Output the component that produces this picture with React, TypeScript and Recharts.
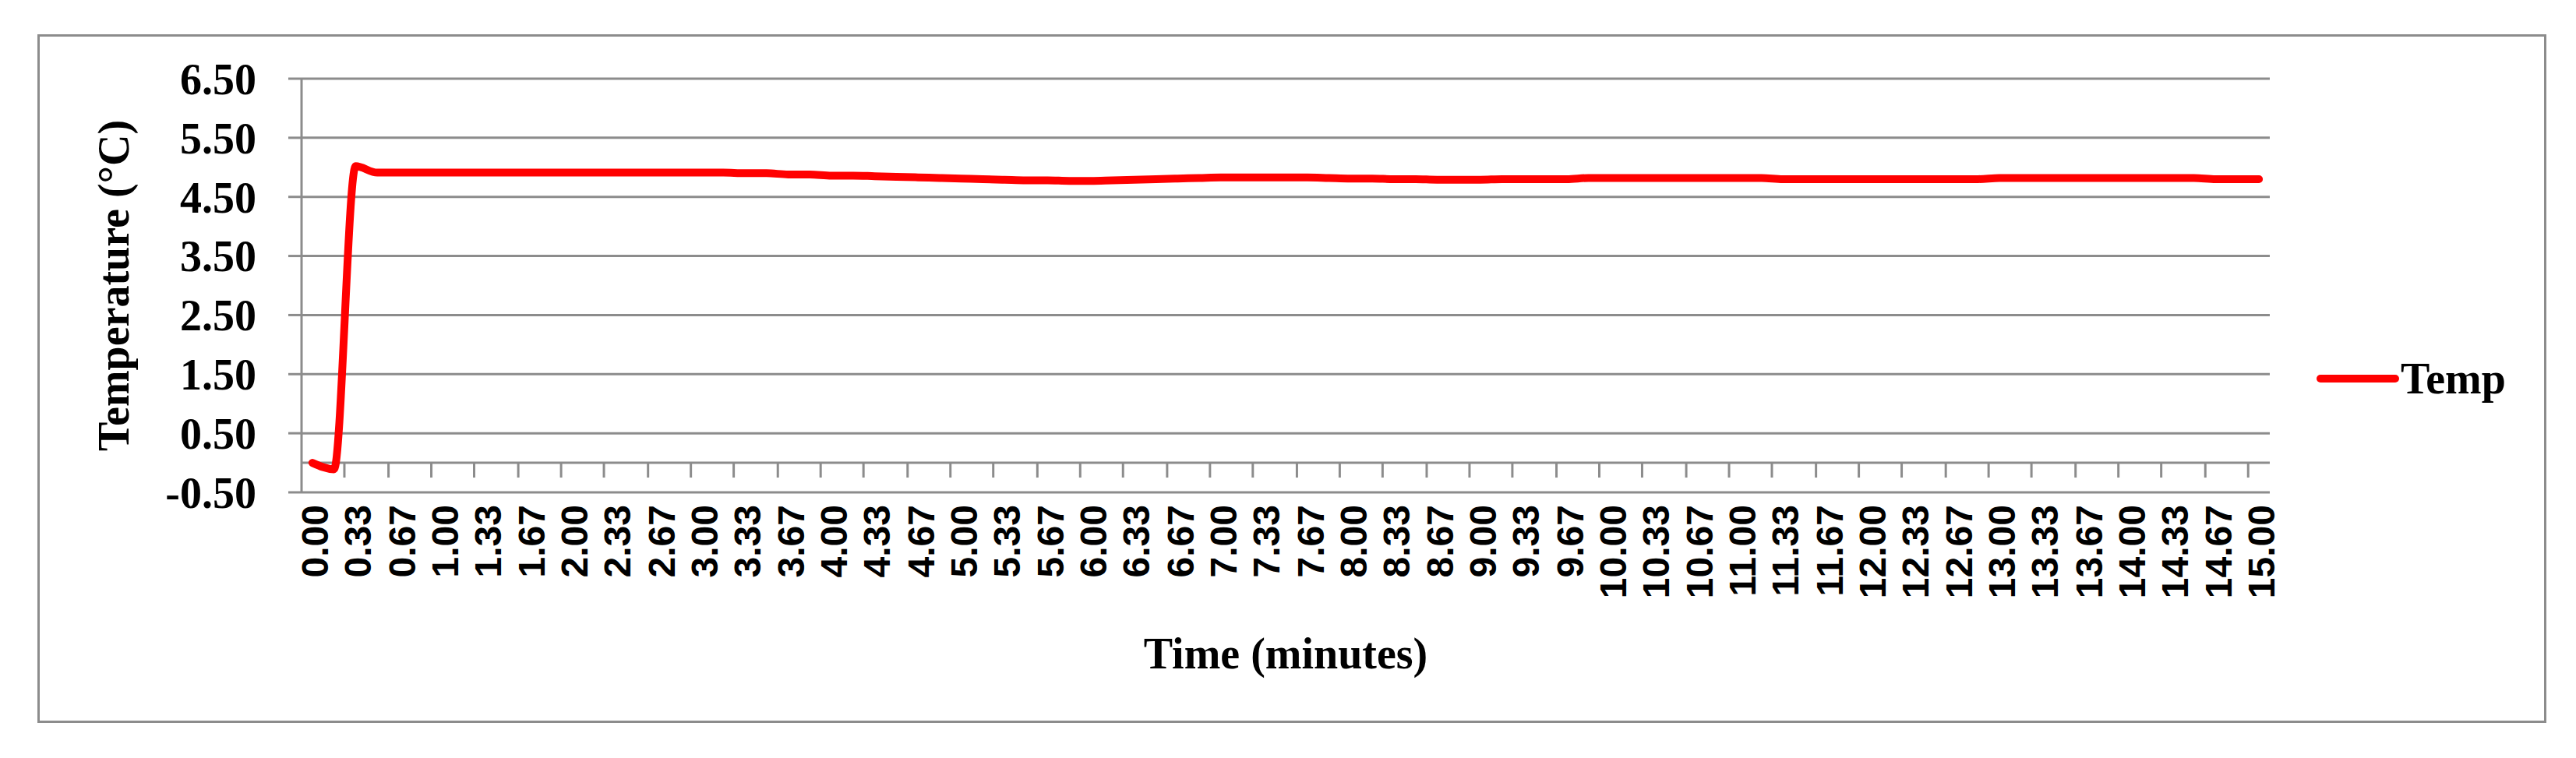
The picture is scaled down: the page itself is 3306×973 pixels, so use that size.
import React from 'react';
import { LineChart, Line, XAxis, YAxis, CartesianGrid, Legend, ReferenceLine, Label } from 'recharts';

// one reading every 10 seconds, 0 to 15 minutes
const SAMPLE_STEP_MIN = 10 / 60;

const TEMPS = [
  0.0, -0.11, 5.02, 4.91, 4.91, 4.91, 4.91, 4.91, 4.91, 4.91,
  4.91, 4.91, 4.91, 4.91, 4.91, 4.91, 4.91, 4.91, 4.91, 4.91,
  4.9, 4.9, 4.88, 4.88, 4.86, 4.86, 4.85, 4.84, 4.83, 4.82,
  4.81, 4.8, 4.79, 4.78, 4.78, 4.77, 4.77, 4.78, 4.79, 4.8,
  4.81, 4.82, 4.83, 4.83, 4.83, 4.83, 4.83, 4.82, 4.81, 4.81,
  4.8, 4.8, 4.79, 4.79, 4.79, 4.8, 4.8, 4.8, 4.8, 4.82,
  4.82, 4.82, 4.82, 4.82, 4.82, 4.82, 4.82, 4.82, 4.8, 4.8,
  4.8, 4.8, 4.8, 4.8, 4.8, 4.8, 4.8, 4.8, 4.82, 4.82,
  4.82, 4.82, 4.82, 4.82, 4.82, 4.82, 4.82, 4.82, 4.8, 4.8,
  4.8,
];

const X_TICKS = [
  0, 0.33, 0.67, 1, 1.33, 1.67, 2, 2.33, 2.67, 3, 3.33, 3.67, 4, 4.33, 4.67,
  5, 5.33, 5.67, 6, 6.33, 6.67, 7, 7.33, 7.67, 8, 8.33, 8.67, 9, 9.33, 9.67,
  10, 10.33, 10.67, 11, 11.33, 11.67, 12, 12.33, 12.67, 13, 13.33, 13.67, 14, 14.33, 14.67, 15,
];

const Y_TICKS = [-0.5, 0.5, 1.5, 2.5, 3.5, 4.5, 5.5, 6.5];

const data = TEMPS.map((temp, i) => ({ t: i * SAMPLE_STEP_MIN, temp }));

const GRID = '#8c8c8c';
const RED = '#FF0000';
const SERIF = "'Liberation Serif', 'Times New Roman', serif";
const SANS = "'Liberation Sans', Arial, sans-serif";
const HALF_STEP = SAMPLE_STEP_MIN / 2;

const TimeTick = (props: any) => {
  const { x, y, payload } = props;
  return (
    <text
      transform={`translate(${x + 3},${y}) rotate(-90)`}
      textAnchor="end"
      dy="0.36em"
      fill="#000"
      fontFamily={SANS}
      fontWeight={700}
      fontSize={48}
    >
      {Number(payload.value).toFixed(2)}
    </text>
  );
};

const XTitle = (props: any) => {
  const vb = props.viewBox;
  return (
    <text x={vb.x + vb.width / 2} y={vb.y + 226} textAnchor="middle" fill="#000"
      fontFamily={SERIF} fontWeight={700} fontSize={56}>
      Time (minutes)
    </text>
  );
};

const YTitle = (props: any) => {
  const vb = props.viewBox;
  const cx = 165;
  const cy = vb.y + vb.height / 2;
  return (
    <text x={cx} y={cy} transform={`rotate(-90, ${cx}, ${cy})`} textAnchor="middle" fill="#000"
      fontFamily={SERIF} fontWeight={700} fontSize={56}>
      Temperature (°C)
    </text>
  );
};

const LegendBox = () => (
  <div style={{ display: 'flex', alignItems: 'center', height: 60 }}>
    <svg width={106} height={20}>
      <line x1={5} y1={10} x2={101} y2={10} stroke={RED} strokeWidth={10} strokeLinecap="round" />
    </svg>
    <span style={{ fontFamily: SERIF, fontWeight: 700, fontSize: 56, lineHeight: 1, marginLeft: 2, color: '#000' }}>
      Temp
    </span>
  </div>
);

export default function App() {
  return (
    <div style={{ position: 'absolute', left: 0, top: 0, width: 3306, height: 973, background: '#fff' }}>
      <div
        style={{
          position: 'absolute', left: 48, top: 44, width: 3220, height: 884,
          border: `3px solid ${GRID}`, boxSizing: 'border-box',
        }}
      />
      <div style={{ position: 'absolute', left: 0, top: 0 }}>
        <LineChart width={3306} height={973} data={data} margin={{ top: 101, right: 393, bottom: 0, left: 0 }}>
          <CartesianGrid vertical={false} stroke={GRID} strokeWidth={3} />
          <XAxis
            type="number"
            dataKey="t"
            domain={[-HALF_STEP, 15 + HALF_STEP]}
            ticks={X_TICKS}
            interval={0}
            height={341}
            axisLine={false}
            tickLine={false}
            tickSize={0}
            tickMargin={16}
            tick={<TimeTick />}
          >
            <Label content={<XTitle />} />
          </XAxis>
          <YAxis
            domain={[-0.5, 6.5]}
            ticks={Y_TICKS}
            interval={0}
            width={387}
            tickFormatter={(v: number) => v.toFixed(2)}
            axisLine={{ stroke: GRID, strokeWidth: 3 }}
            tickLine={{ stroke: GRID, strokeWidth: 3 }}
            tickSize={17}
            tickMargin={41}
            tick={{ fill: '#000', fontFamily: SERIF, fontWeight: 700, fontSize: 56 }}
          >
            <Label content={<YTitle />} />
          </YAxis>
          <ReferenceLine y={0} stroke={GRID} strokeWidth={3} />
          {X_TICKS.slice(1).map((v) => (
            <ReferenceLine
              key={v}
              segment={[{ x: v - HALF_STEP, y: 0 }, { x: v - HALF_STEP, y: -0.25 }]}
              stroke={GRID}
              strokeWidth={3}
            />
          ))}
          <Legend
            layout="horizontal"
            verticalAlign="middle"
            align="center"
            wrapperStyle={{ left: 2973, top: 456, width: 300, height: 60 }}
            content={<LegendBox />}
          />
          <Line
            type="monotone"
            dataKey="temp"
            name="Temp"
            stroke={RED}
            strokeWidth={10}
            strokeLinecap="round"
            strokeLinejoin="round"
            dot={false}
            activeDot={false}
            isAnimationActive={false}
          />
        </LineChart>
      </div>
    </div>
  );
}
